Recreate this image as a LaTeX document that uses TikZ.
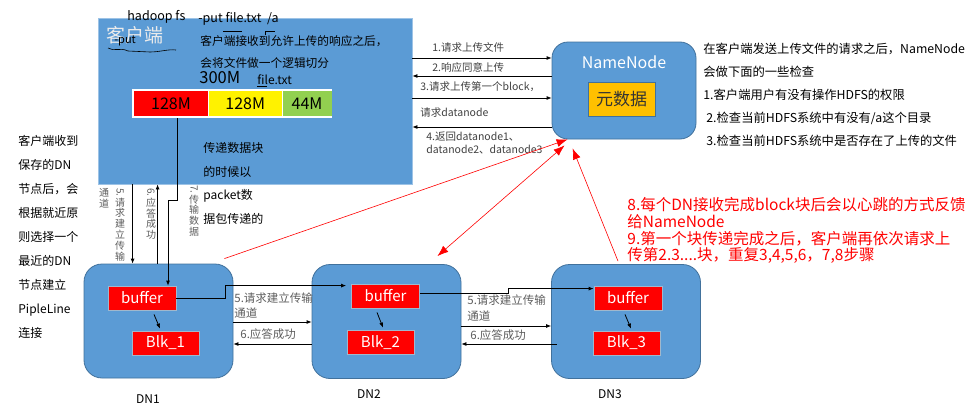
\documentclass[tikz,border=0pt]{standalone}
\usepackage{fontspec}
\setmainfont{Noto Sans CJK SC}
\usepackage{xcolor}
\usepackage{tikz}
\usetikzlibrary{positioning,calc,arrows.meta}
\definecolor{boxblue}{HTML}{5B9BD5}
\definecolor{boxedge}{HTML}{41719C}
\definecolor{metayellow}{HTML}{FFC000}
\definecolor{blkgreen}{HTML}{92D050}
\definecolor{lblgray}{HTML}{404040}
\newcommand{\fs}[2]{\fontsize{#1}{#2}\selectfont}

\begin{document}
\begin{tikzpicture}[x=1pt, y=-1pt, >={Latex[length=5pt,width=4pt]}, line width=0.8pt,
	dnbox/.style={draw=boxedge, fill=boxblue, rounded corners=18pt, minimum width=149pt, minimum height=114pt, inner sep=0pt},
	redbox/.style={draw=boxedge!50, fill=red, text=white, font=\fs{15}{18}, minimum width=68pt, minimum height=24pt, inner sep=0pt},
	txt/.style={inner sep=0pt, anchor=west},
	lbl/.style={inner sep=0pt, anchor=west, text=lblgray, font=\fs{10.5}{13}},
	dnlbl/.style={inner sep=0pt, anchor=west, text=lblgray!85, font=\fs{11.5}{14}},
	vlbl/.style={inner sep=0pt, anchor=north, text=lblgray!85, align=center, font=\fs{10}{10.8}},
	redarrow/.style={red, line width=0.6pt, -{Latex[length=11pt,width=8pt]}}]
		\useasboundingbox (0,0) rectangle (980,415);

		\node[draw=boxblue!60!white, fill=boxblue, minimum width=314pt, minimum height=166pt, inner sep=0pt] (cli) at (255,101) {};
		\node[dnbox, minimum width=144pt, minimum height=97pt, rounded corners=16pt] (nn) at (624,90.5) {};
		\node[dnbox] (dn1) at (158.5,321) {};
		\node[dnbox] (dn2) at (386.5,321.5) {};
		\node[dnbox] (dn3) at (626,321.5) {};

		\node[txt, font=\fs{12.5}{15}] (hcmd) at (127,17) {hadoop fs};
		\node[txt, font=\fs{12.5}{15}] (pcmd) at (198,19) {-put file.txt\ \ /a};
		\draw[line width=0.6pt] (223,31) -- (242,31);
		\draw[line width=0.6pt] (265,35) -- (265,31) -- (275,31);
		\node[txt, text=white!92!black, font=\fs{19}{22}] (clititle) at (106,35) {客户端};
		\node[txt, font=\fs{11}{13}] (put) at (114,41) {-put};
		\draw[line width=0.6pt] (108,48) .. controls (114,52) and (120,47) .. (128,51) -- (150,52) .. controls (160,52) and (168,49) .. (176,50);
		\node[txt, font=\fs{11.7}{14}] (note1) at (200,41) {客户端接收到允许上传的响应之后，};
		\node[txt, font=\fs{11.7}{14}] (note2) at (200,63) {会将文件做一个逻辑切分};
		\node[txt, font=\fs{16.5}{18}] (size) at (199,78) {300M};
		\node[txt, font=\fs{12}{14}] (fname) at (257,80) {file.txt};
		\draw[line width=0.6pt] (257,86) -- (267,86);

		\node[fill=white, minimum width=200pt, minimum height=29pt, inner sep=0pt] (bar) at (232,103.5) {};
		\node[fill=red, minimum width=74pt, minimum height=25pt, inner sep=0pt, font=\fs{16}{18}] (b1) at (171,103.5) {128M};
		\node[fill=yellow, minimum width=73pt, minimum height=25pt, inner sep=0pt, font=\fs{16}{18}, right=0pt of b1] (b2) {128M};
		\node[fill=blkgreen, minimum width=49pt, minimum height=25pt, inner sep=0pt, font=\fs{16}{18}, right=0pt of b2] (b3) {44M};

		\node[inner sep=0pt, anchor=north west, align=left, font=\fs{12}{23.5}] (pkt) at (203,142) {传递数据块\\的时候以\\packet数\\据包传递的};
		\node[inner sep=0pt, anchor=north west, align=left, font=\fs{12}{24}] (leftnote) at (18,135) {客户端收到\\保存的DN\\节点后，会\\根据就近原\\则选择一个\\最近的DN\\节点建立\\PipleLine\\连接};
		\node[inner sep=0pt, anchor=north west, align=left, font=\fs{12.3}{23}] (nncheck) at (703,43) {在客户端发送上传文件的请求之后，NameNode\\会做下面的一些检查\\1.客户端用户有没有操作HDFS的权限\\\hspace{3pt}2.检查当前HDFS系统中有没有/a这个目录\\\hspace{3pt}3.检查当前HDFS系统中是否存在了上传的文件};
		\node[inner sep=0pt, anchor=north west, align=left, text=red, font=\fs{15.5}{16.8}] (heartbeat) at (627,197) {8.每个DN接收完成block块后会以心跳的方式反馈\\给NameNode\\9.第一个块传递完成之后，客户端再依次请求上\\传第2.3....块，重复3,4,5,6，7,8步骤};

		\node[text=white, font=\fs{16}{18}] (nnname) at (624,62) {NameNode};
		\node[draw=boxedge, fill=metayellow, minimum width=67pt, minimum height=34pt, inner sep=0pt, font=\fs{17}{20}, text=black!80] (meta) at (621.5,99) {元数据};

		\node[redbox] (buf1) at (142,298) {buffer};
		\node[redbox, minimum width=67pt] (blk1) at (165.5,343) {Blk\_1};
		\node[redbox] (buf2) at (385.5,296) {buffer};
		\node[redbox, minimum width=67pt] (blk2) at (380.5,342.5) {Blk\_2};
		\node[redbox] (buf3) at (628,298) {buffer};
		\node[redbox, minimum width=67pt] (blk3) at (626.5,343) {Blk\_3};

		\node[font=\fs{12}{14}] (dn1name) at (148,399) {DN1};
		\node[font=\fs{12}{14}] (dn2name) at (369,394) {DN2};
		\node[font=\fs{12}{14}] (dn3name) at (610,394) {DN3};

		\draw[->] (cli.east |- 0,58) -- (nn.west |- 0,58);
		\draw[<-] (cli.east |- 0,76) -- (nn.west |- 0,76);
		\draw[->] (cli.east |- 0,98) -- (nn.west |- 0,98);
		\draw[<-] (cli.east |- 0,127) -- (nn.west |- 0,127);
		\node[lbl] (m1) at (432,47) {1.请求上传文件};
		\node[lbl] (m2) at (432,67) {2.响应同意上传};
		\node[lbl] (m3) at (420,87) {3.请求上传第一个block，};
		\node[lbl] (m4) at (420,113) {请求datanode};
		\node[lbl] (m5) at (426,137) {4.返回datanode1、};
		\node[lbl] (m6) at (426,150) {datanode2、datanode3};

		\coordinate (p5) at ($(cli.south west)+(35,0)$);
		\coordinate (p6) at ($(cli.south west)+(60,0)$);
		\coordinate (k7) at (168,200);
		\draw[->] (p5) -- (p5 |- dn1.north);
		\draw[<-] (p6) -- (p6 |- dn1.north);
		\draw[->] ($(b1.south)+(6,2)$) |- (k7) -- (k7 |- buf1.north);
		\node[vlbl] (v5) at (120,188) {\rotatebox{-90}{5.}\\请\\求\\建\\立\\传\\输};
		\node[vlbl] (v5b) at (104,188) {通\\道};
		\node[vlbl] (v6) at (151,188) {\rotatebox{-90}{6.}\\应\\答\\成\\功};
		\node[vlbl] (v7) at (194,185) {\rotatebox{-90}{7.}\\传\\输\\数\\据};

		\draw[->] (buf1.east) -- ++(49,0) |- ($(buf2.north west)+(-5,2)$);
		\draw[->] ($(buf2.east)+(0,-3)$) -- ++(88,0) |- ($(buf3.north west)+(0,3)$);
		\draw[->] ($(buf1.south)+(12,4)$) -- ($(blk1.north)+(-5.5,-2)$);
		\draw[->] ($(buf2.south)+(-8.5,4)$) -- ($(blk2.north)+(2.5,-2.5)$);
		\draw[->] ($(buf3.south)+(-3,4)$) -- ($(blk3.north)+(4.5,-2)$);

		\draw[->] ($(dn1.east)+(0,1)$) -- ($(dn2.west)+(0,0.5)$);
		\draw[<-] ($(dn1.east)+(0,23)$) -- ($(dn2.west)+(0,22.5)$);
		\draw[->] ($(dn2.east)+(0,4.5)$) -- ($(dn3.west)+(0,4.5)$);
		\draw[<-] ($(dn2.east)+(0,22.5)$) -- ($(dn3.west)+(6,22.5)$);
		\node[dnlbl] (e1) at (234,298) {5.请求建立传输};
		\node[dnlbl] (e2) at (234,313) {通道};
		\node[dnlbl] (e3) at (240,334) {6.应答成功};
		\node[dnlbl] (e4) at (467,300) {5.请求建立传输};
		\node[dnlbl] (e5) at (467,316) {通道};
		\node[dnlbl] (e6) at (470,335) {6.应答成功};

		\draw[redarrow] ($(dn1.north east)+(-9,-5)$) -- ($(nn.south west)+(16,0)$);
		\draw[redarrow, {Latex[length=11pt,width=8pt]}-{Latex[length=11pt,width=8pt]}] ($(dn2.north east)+(-24,-8)$) -- ($(nn.south west)+(13,6)$);
		\draw[redarrow] ($(dn3.north)+(-8,-3)$) -- ($(nn.south west)+(21,9)$);
\end{tikzpicture}
\end{document}
